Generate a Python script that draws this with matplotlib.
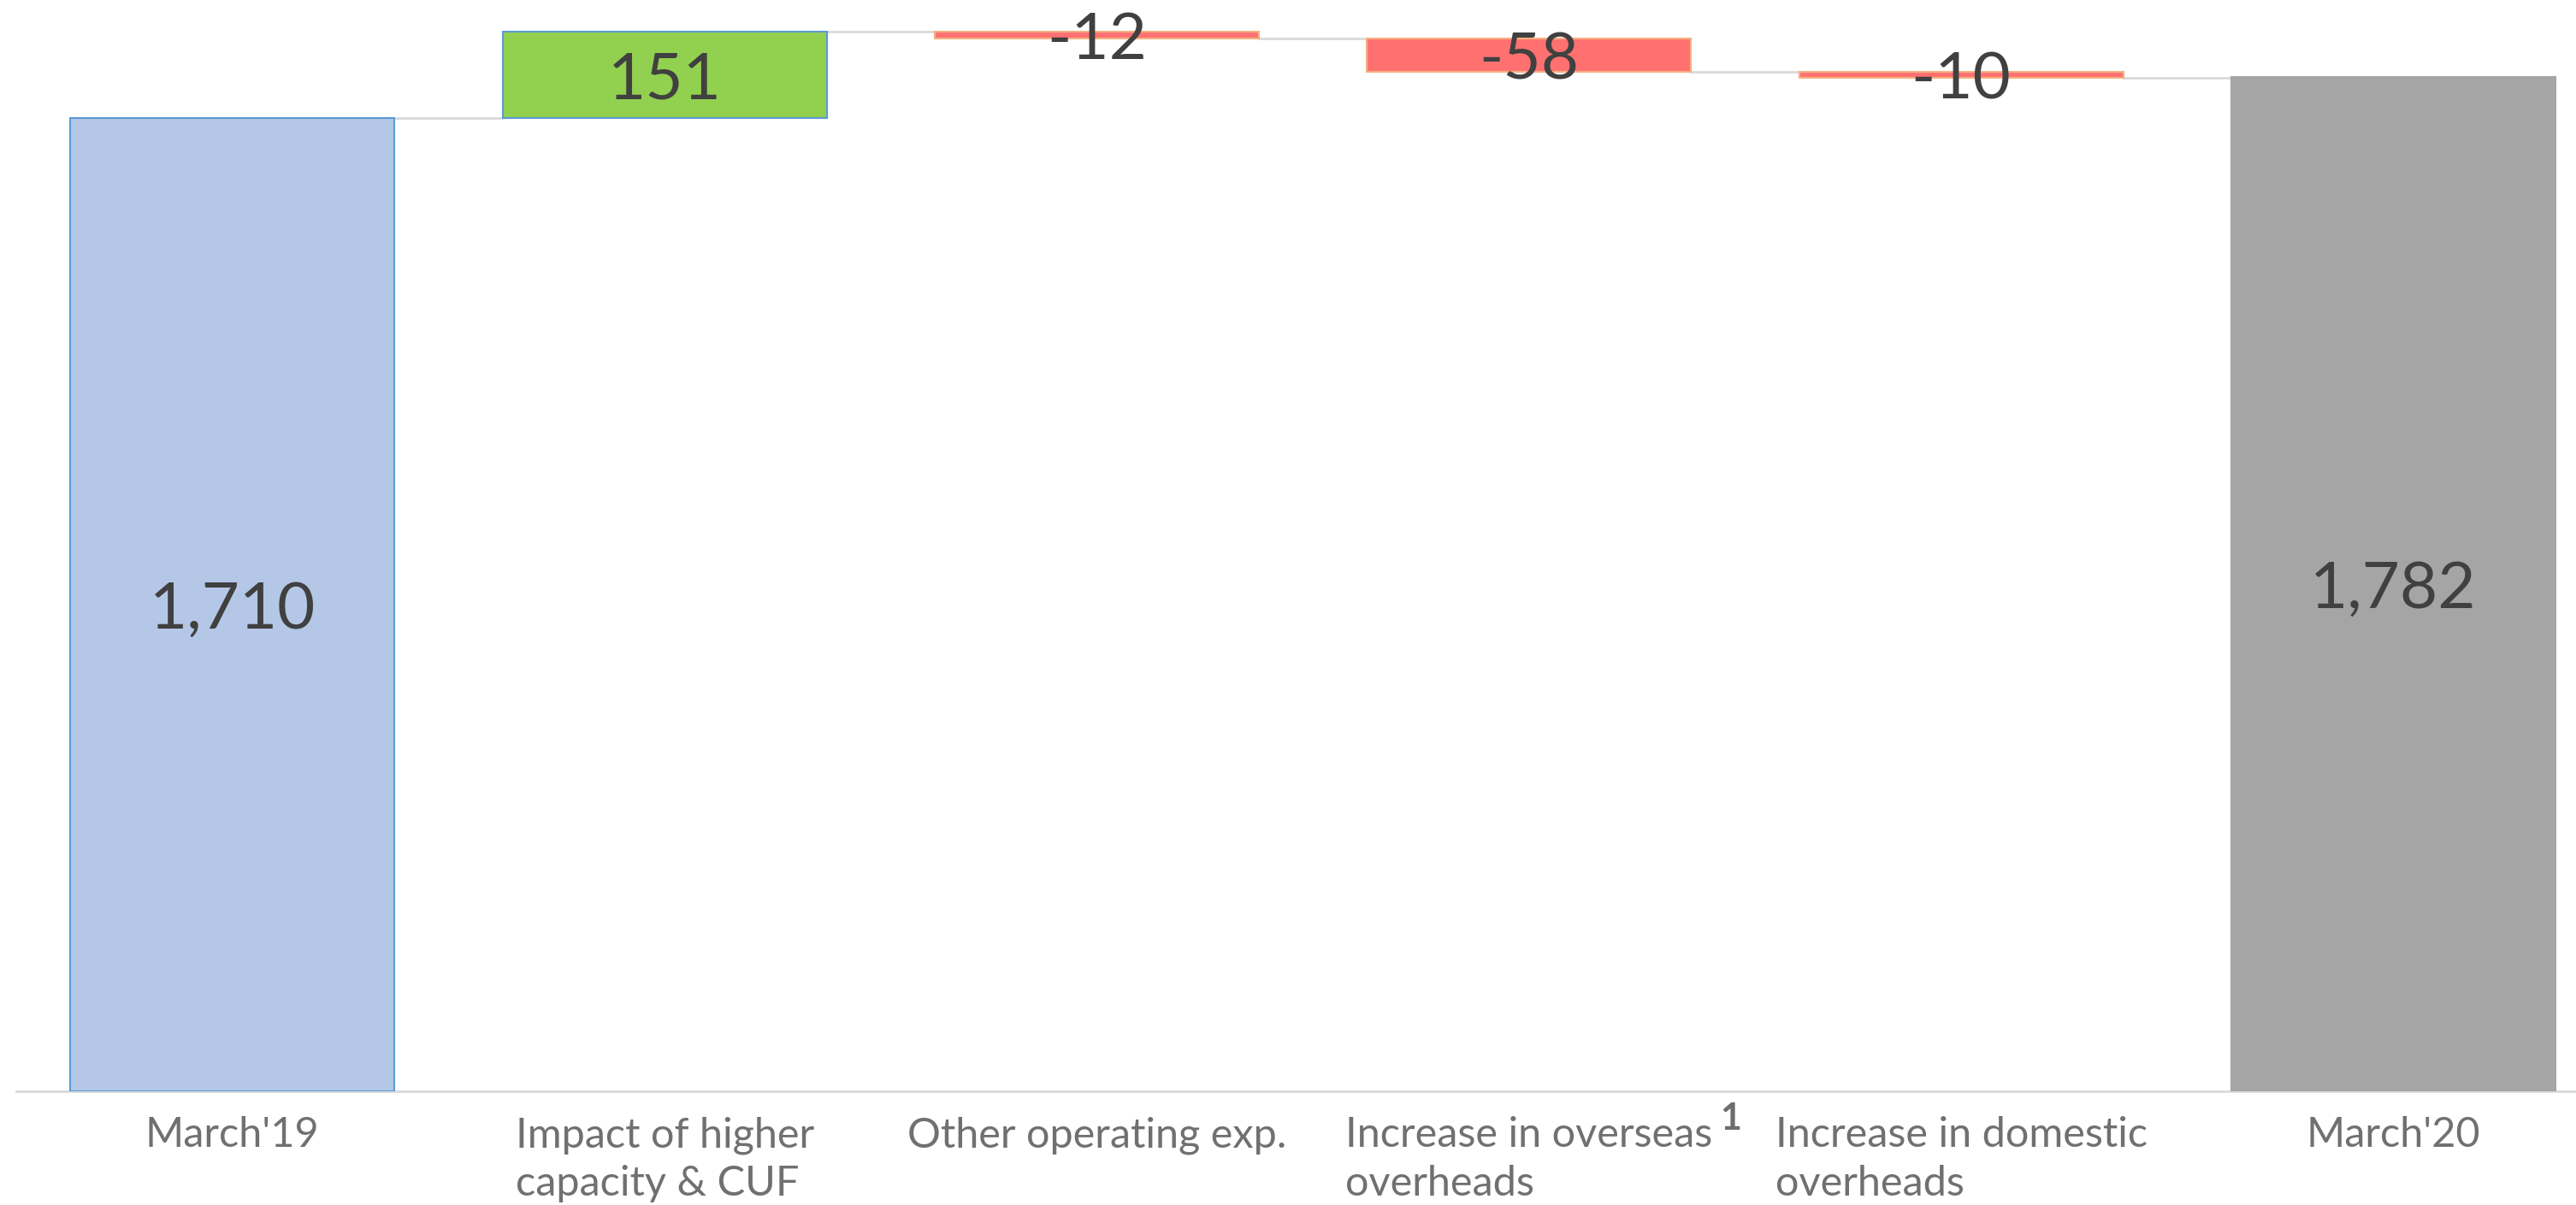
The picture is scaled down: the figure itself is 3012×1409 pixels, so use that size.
import matplotlib
matplotlib.use("Agg")
import matplotlib.pyplot as plt
import matplotlib.transforms as mtransforms

# ---- data ----
categories = ["March'19", "Impact of higher\ncapacity & CUF", "Other operating exp.",
              "Increase in overseas\noverheads", "Increase in domestic\noverheads", "March'20"]
start_value = 1710
deltas = [151, -12, -58, -10]
end_value = 1782
value_labels = ["1,710", "151", "-12", "-58", "-10", "1,782"]
footnote_marker = "1"

# ---- derived waterfall geometry ----
bottoms, heights = [0], [start_value]
level = start_value
levels = [start_value]
for d in deltas:
    if d >= 0:
        bottoms.append(level); heights.append(d)
    else:
        bottoms.append(level + d); heights.append(-d)
    level += d
    levels.append(level)
bottoms.append(0); heights.append(end_value)
levels.append(end_value)

face = ["#b4c7e7", "#92d050", "#ff7171", "#ff7171", "#ff7171", "#a5a5a5"]
edge = ["#5b9bd5", "#5b9bd5", "#f4b183", "#f4b183", "#f4b183", "#a5a5a5"]

W, H, DPI = 3012, 1409, 100
fig = plt.figure(figsize=(W / DPI, H / DPI), dpi=DPI)
fig.patch.set_facecolor("white")
left_px, width_px = 19.1, 3032
bottom_frac = (H - 1276) / H
ax = fig.add_axes([left_px / W, bottom_frac, width_px / W, 1 - bottom_frac])

x = list(range(len(categories)))
bw = 0.75
ax.bar(x, heights, bottom=bottoms, width=bw, color=face, edgecolor=edge, linewidth=1.5, zorder=3)

# connectors
for i in range(len(categories) - 1):
    ax.plot([i + bw / 2, i + 1 - bw / 2], [levels[i], levels[i]], color="#d9d9d9", lw=2, zorder=2)

num_font = ["Lato", "DejaVu Sans"]
for i, lab in enumerate(value_labels):
    ax.text(i, bottoms[i] + heights[i] / 2, lab, ha="center", va="center_baseline",
            fontsize=55, color="#404040", family=num_font, zorder=5)

ax.set_xlim(-0.5, 5.5)
ax.set_ylim(0, 1917)
for s in ["top", "left", "right"]:
    ax.spines[s].set_visible(False)
ax.spines["bottom"].set_color("#d9d9d9")
ax.spines["bottom"].set_linewidth(2)
ax.set_yticks([])
ax.set_xticks(x)
ax.set_xticklabels(categories, fontsize=35, color="#707070", family=num_font,
                   fontweight="normal", multialignment="left", linespacing=1.35)
ax.tick_params(axis="x", length=0, pad=21)

# superscript footnote marker
trans = mtransforms.blended_transform_factory(ax.transData, ax.transAxes)
ax.annotate(footnote_marker, xy=(3.466, 0), xycoords=trans, xytext=(0, -12),
            textcoords="offset pixels", ha="center", va="top", fontsize=31,
            fontweight="bold", color="#6d6d6d", family=num_font)

fig.savefig("out.png", dpi=DPI)
